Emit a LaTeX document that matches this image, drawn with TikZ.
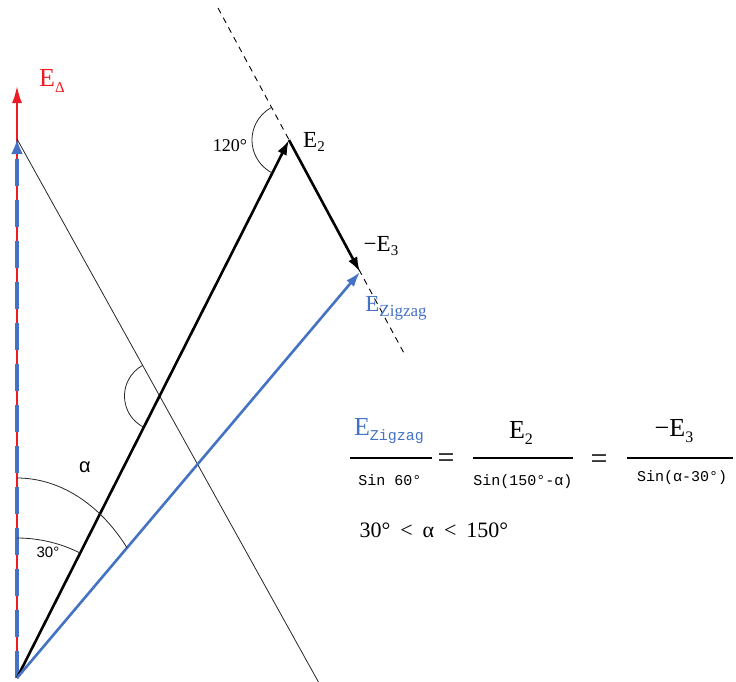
\documentclass[tikz,border=0pt]{standalone}
\usepackage{fontspec}
\setmainfont{Liberation Serif}
\setsansfont{Liberation Sans}
\setmonofont{Liberation Mono}
\usetikzlibrary{arrows.meta}
\definecolor{myblue}{RGB}{68,114,196}
\definecolor{myred}{RGB}{237,28,36}
\newcommand{\fs}[1]{\fontsize{#1}{#1}\selectfont}
\newcommand{\sbs}[2]{\raisebox{-0.45ex}{\fs{#1}#2}}
\tikzset{
  thinline/.style={line width=0.8pt, black!85},
  dashline/.style={line width=0.9pt, black, dash pattern=on 6pt off 5pt},
  blackvec/.style={line width=2.6pt, black, -{Latex[length=15pt,width=10pt]}},
  bluevec/.style={line width=2.6pt, myblue, -{Latex[length=15pt,width=10pt]}},
  redvec/.style={line width=2pt, myred, -{Latex[length=17pt,width=10pt]}},
  bluedash/.style={line width=3.6pt, myblue, dash pattern=on 27pt off 14pt, -{Latex[length=15pt,width=12pt]}},
  lbl/.style={inner sep=0pt, outer sep=0pt},
  bar/.style={line width=1.4pt, black},
}
\begin{document}
\begin{tikzpicture}[x=1pt,y=-1pt]
\useasboundingbox (0,0) rectangle (736,681);
\coordinate (O) at (17,678);
\coordinate (Ed) at (17,86);
\coordinate (Eb) at (17,139);
\coordinate (E2) at (289,140);
\coordinate (E3) at (360,272);
\coordinate (D1) at (218,8);
\coordinate (D2) at (405,355);
\coordinate (T2) at (319,683);
\coordinate (X) at (159.5,396);

% lines
\draw[dashline] (D1) -- (D2);
\draw[redvec] (O) -- (Ed);
\draw[bluedash] (O) -- (Eb);
\draw[thinline] (Eb) -- (T2);
\draw[blackvec] (O) -- (E2);
\draw[blackvec] (E2) -- (E3);
\draw[bluevec] (O) -- (E3);

% arcs
\draw[thinline] (O) ++(0,-140) arc[start angle=270,end angle=296.8,radius=140];
\draw[thinline] (O) ++(0,-200) arc[start angle=270,end angle=319.4,x radius=145,y radius=200];
\draw[thinline] (E2) ++(116.8:37) arc[start angle=116.8,end angle=241,radius=37];
\draw[thinline] (X) ++(116.8:35) arc[start angle=116.8,end angle=240.9,radius=35];

% labels
\node[lbl, text=myred, font=\fs{26}] (lEd) at (52,81) {E\sbs{15}{Δ}};
\node[lbl, font=\fs{23}] (lE2) at (314,142) {E\sbs{15}{2}};
\node[lbl, font=\fs{23}] (lE3) at (381,246) {−E\sbs{15}{3}};
\node[lbl, text=myblue, font=\fs{23}] (lEz) at (396,308) {E\sbs{17}{Zigzag}};
\node[lbl, font=\fs{18}] (l120) at (230,146) {120°};
\node[lbl, font=\sffamily\fs{20}] (lal) at (85,467) {α};
\node[lbl, font=\sffamily\fs{15}] (l30) at (48,552) {30°};

% equation
\node[lbl, text=myblue, font=\fs{26}] (n1) at (389,431) {E\sbs{15}{\ttfamily Zigzag}};
\draw[bar] (350,458) -- (432,458);
\node[lbl, font=\ttfamily\fs{15}] (d1) at (390,480) {Sin 60°};
\node[lbl, font=\fs{30}] (eq1) at (446,461) {=};
\node[lbl, font=\fs{26}] (n2) at (521,433) {E\sbs{16}{2}};
\draw[bar] (473,458) -- (573,458);
\node[lbl, font=\ttfamily\fs{15}] (d2) at (523,482) {Sin(150°-α)};
\node[lbl, font=\fs{30}] (eq2) at (599,462) {=};
\node[lbl, font=\fs{26}] (n3) at (674,431) {−E\sbs{16}{3}};
\draw[bar] (627,458) -- (733,458);
\node[lbl, font=\ttfamily\fs{15}] (d3) at (682,478) {Sin(α-30°)};
\node[lbl, font=\fs{22}] (rng) at (434,530) {30°\hspace{0.45em}<\hspace{0.45em}α\hspace{0.45em}<\hspace{0.45em}150°};
\end{tikzpicture}
\end{document}
